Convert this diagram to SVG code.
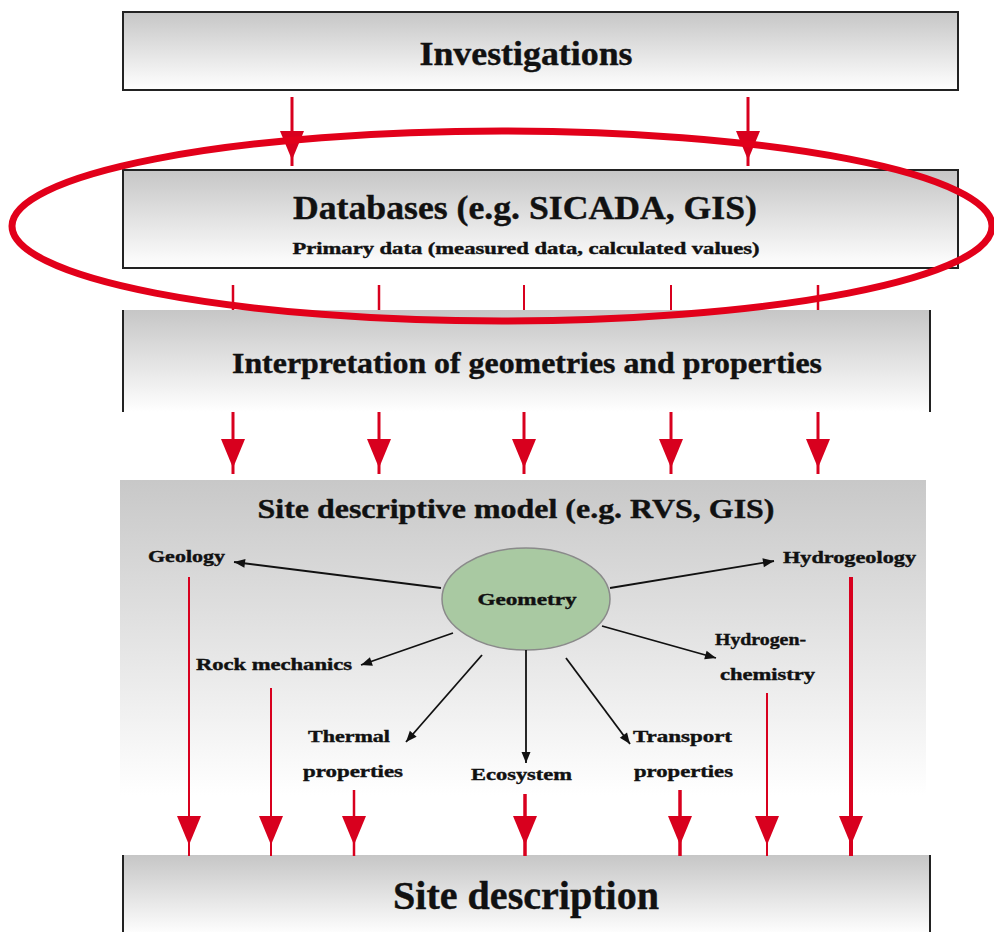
<svg xmlns="http://www.w3.org/2000/svg" width="994" height="932" viewBox="0 0 994 932">
<style>
  .t { font-family: "Liberation Serif", "Times New Roman", serif; font-weight: bold; fill: #111; stroke: #111; stroke-width: 0.4; }
  .box { stroke: #222; stroke-width: 2; }
  .side { stroke: #222; stroke-width: 2; }
  .red { stroke: #d8001e; fill: none; }
  .blk { stroke: #111; stroke-width: 1.8; fill: none; }
</style>
<defs>
  <linearGradient id="g1" x1="0" y1="0" x2="0" y2="1">
    <stop offset="0" stop-color="#c6c6c6"/>
    <stop offset="1" stop-color="#ffffff"/>
  </linearGradient>
  <linearGradient id="g2" x1="0" y1="0" x2="0" y2="1">
    <stop offset="0" stop-color="#c8c8c8"/>
    <stop offset="0.95" stop-color="#ffffff"/>
  </linearGradient>
  <marker id="rh" markerUnits="userSpaceOnUse" viewBox="-30 -13 31 26" markerWidth="31" markerHeight="26" refX="0" refY="0" orient="auto">
    <path d="M0,0 L-29,-12 L-29,12 Z" fill="#d8001e"/>
  </marker>
  <marker id="bh" markerUnits="userSpaceOnUse" viewBox="-12 -5 13 10" markerWidth="13" markerHeight="10" refX="0" refY="0" orient="auto">
    <path d="M0,0 L-11,-4.5 L-11,4.5 Z" fill="#111"/>
  </marker>
</defs>

<rect width="994" height="932" fill="#ffffff"/>

<g id="investigations">
  <rect class="box" x="123" y="12" width="835" height="78" fill="url(#g1)"/>
  <text class="t" x="526" y="65" font-size="33" text-anchor="middle" textLength="213" lengthAdjust="spacingAndGlyphs">Investigations</text>
</g>

<g id="databases">
  <rect class="box" x="123" y="170" width="835" height="98" fill="url(#g1)"/>
  <text class="t" x="525" y="219" font-size="33" text-anchor="middle" textLength="464" lengthAdjust="spacingAndGlyphs">Databases (e.g. SICADA, GIS)</text>
  <text class="t" x="526" y="254" font-size="17" text-anchor="middle" textLength="467" lengthAdjust="spacingAndGlyphs">Primary data (measured data, calculated values)</text>
</g>

<g id="interpretation">
  <rect x="123" y="310" width="807" height="102" fill="url(#g1)"/>
  <line class="side" x1="123" y1="310" x2="123" y2="412"/>
  <line class="side" x1="930" y1="310" x2="930" y2="412"/>
  <text class="t" x="527" y="373" font-size="29" text-anchor="middle" textLength="590" lengthAdjust="spacingAndGlyphs">Interpretation of geometries and properties</text>
</g>

<g id="site-descriptive-model">
  <rect x="120" y="480" width="806" height="332" fill="url(#g2)"/>
  <text class="t" x="516" y="518" font-size="28" text-anchor="middle" textLength="517" lengthAdjust="spacingAndGlyphs">Site descriptive model (e.g. RVS, GIS)</text>
</g>

<g id="geometry">
  <ellipse cx="526" cy="599" rx="84" ry="51" fill="#a9c9a2" stroke="#8a8a8a" stroke-width="1.5"/>
  <text class="t" x="527" y="605" font-size="17" text-anchor="middle" textLength="99" lengthAdjust="spacingAndGlyphs">Geometry</text>
</g>

<g id="geology">
  <text class="t" x="148" y="562" font-size="17" textLength="77" lengthAdjust="spacingAndGlyphs">Geology</text>
</g>
<g id="hydrogeology">
  <text class="t" x="783" y="563" font-size="17" textLength="133" lengthAdjust="spacingAndGlyphs">Hydrogeology</text>
</g>
<g id="rock-mechanics">
  <text class="t" x="196" y="670" font-size="17" textLength="156" lengthAdjust="spacingAndGlyphs">Rock mechanics</text>
</g>
<g id="hydrogeochemistry">
  <text class="t" x="715" y="645" font-size="17" textLength="91" lengthAdjust="spacingAndGlyphs">Hydrogen-</text>
  <text class="t" x="720" y="680" font-size="17" textLength="95" lengthAdjust="spacingAndGlyphs">chemistry</text>
</g>
<g id="thermal-properties">
  <text class="t" x="308" y="742" font-size="17" textLength="82" lengthAdjust="spacingAndGlyphs">Thermal</text>
  <text class="t" x="303" y="777" font-size="17" textLength="100" lengthAdjust="spacingAndGlyphs">properties</text>
</g>
<g id="ecosystem">
  <text class="t" x="471" y="780" font-size="17" textLength="101" lengthAdjust="spacingAndGlyphs">Ecosystem</text>
</g>
<g id="transport-properties">
  <text class="t" x="633" y="742" font-size="17" textLength="99" lengthAdjust="spacingAndGlyphs">Transport</text>
  <text class="t" x="634" y="777" font-size="17" textLength="99" lengthAdjust="spacingAndGlyphs">properties</text>
</g>

<g id="site-description">
  <rect x="123" y="855" width="807" height="80" fill="url(#g1)"/>
  <line class="side" x1="123" y1="855" x2="123" y2="932"/>
  <line class="side" x1="930" y1="855" x2="930" y2="932"/>
  <text class="t" x="526" y="909" font-size="40" text-anchor="middle" textLength="266" lengthAdjust="spacingAndGlyphs">Site description</text>
</g>

<g id="connectors">
  <!-- Investigations to Databases -->
  <path class="red" stroke-width="3" d="M292,97 L292,160 L292,166" marker-mid="url(#rh)"/>
  <path class="red" stroke-width="3" d="M748,97 L748,160 L748,166" marker-mid="url(#rh)"/>
  <!-- Databases to Interpretation -->
  <line class="red" stroke-width="2.5" x1="233" y1="285" x2="233" y2="310"/>
  <line class="red" stroke-width="2.5" x1="379" y1="285" x2="379" y2="310"/>
  <line class="red" stroke-width="2" x1="524" y1="285" x2="524" y2="310"/>
  <line class="red" stroke-width="2" x1="671" y1="285" x2="671" y2="310"/>
  <line class="red" stroke-width="2.5" x1="818" y1="285" x2="818" y2="310"/>
  <!-- Interpretation to Site descriptive model -->
  <path class="red" stroke-width="3" d="M233,412 L233,468 L233,474" marker-mid="url(#rh)"/>
  <path class="red" stroke-width="3" d="M379,412 L379,468 L379,474" marker-mid="url(#rh)"/>
  <path class="red" stroke-width="3" d="M524,412 L524,468 L524,474" marker-mid="url(#rh)"/>
  <path class="red" stroke-width="3" d="M671,412 L671,468 L671,474" marker-mid="url(#rh)"/>
  <path class="red" stroke-width="3" d="M818,412 L818,468 L818,474" marker-mid="url(#rh)"/>
  <!-- Geometry to aspects -->
  <line class="blk" x1="441" y1="588" x2="234" y2="562" marker-end="url(#bh)"/>
  <line class="blk" x1="610" y1="588" x2="774" y2="561" marker-end="url(#bh)"/>
  <line class="blk" x1="453" y1="633" x2="361" y2="665" marker-end="url(#bh)"/>
  <line class="blk" x1="602" y1="626" x2="716" y2="658" marker-end="url(#bh)"/>
  <line class="blk" x1="482" y1="655" x2="406" y2="742" marker-end="url(#bh)"/>
  <line class="blk" x1="526" y1="650" x2="526" y2="763" marker-end="url(#bh)"/>
  <line class="blk" x1="566" y1="658" x2="630" y2="744" marker-end="url(#bh)"/>
  <!-- Aspects to Site description -->
  <path class="red" stroke-width="2" d="M189,577 L189,845 L189,856" marker-mid="url(#rh)"/>
  <path class="red" stroke-width="2" d="M271,688 L271,845 L271,856" marker-mid="url(#rh)"/>
  <path class="red" stroke-width="2.5" d="M354,790 L354,845 L354,856" marker-mid="url(#rh)"/>
  <path class="red" stroke-width="3.5" d="M525,794 L525,845 L525,856" marker-mid="url(#rh)"/>
  <path class="red" stroke-width="3.5" d="M680,790 L680,845 L680,856" marker-mid="url(#rh)"/>
  <path class="red" stroke-width="2" d="M767,693 L767,845 L767,856" marker-mid="url(#rh)"/>
  <path class="red" stroke-width="4" d="M851,577 L851,845 L851,856" marker-mid="url(#rh)"/>
</g>

<g id="highlight">
  <ellipse cx="502" cy="226" rx="490" ry="95" fill="none" stroke="#e2001a" stroke-width="7"/>
</g>
</svg>
